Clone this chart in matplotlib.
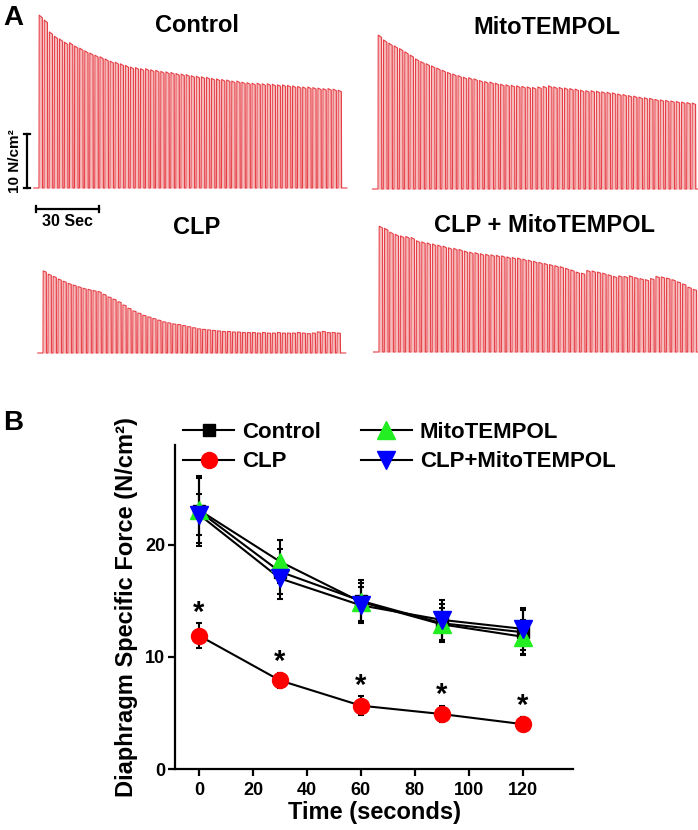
import matplotlib
matplotlib.use("Agg")
import matplotlib.pyplot as plt
from matplotlib.lines import Line2D

W, H = 698, 830
plt.rcParams['font.family'] = ['Liberation Sans', 'DejaVu Sans']
plt.rcParams['font.weight'] = 'bold'
plt.rcParams['axes.labelweight'] = 'bold'

# ---- panel A: peak force of each tetanic contraction (N/cm2) ----
control_peaks = [32.0, 31.1, 28.9, 28.1, 27.6, 27.0, 26.9, 26.3, 25.9, 25.4,
                 25.0, 24.6, 24.3, 23.9, 23.5, 23.3, 23.0, 22.7, 22.4, 22.3,
                 22.1, 22.1, 21.9, 21.8, 21.6, 21.5, 21.4, 21.2, 21.1, 21.0,
                 20.8, 20.7, 20.6, 20.5, 20.3, 20.2, 20.1, 20.0, 19.8, 19.8,
                 19.6, 19.5, 19.4, 19.4, 19.3, 19.3, 19.2, 19.1, 19.1, 19.0,
                 18.9, 18.8, 18.7, 18.7, 18.6, 18.5, 18.4, 18.4, 18.3, 18.1]
mito_peaks = [28.5, 27.6, 27.0, 26.5, 26.0, 25.4, 24.8, 24.1, 23.6, 23.2,
              22.8, 22.4, 22.0, 21.6, 21.3, 21.0, 20.7, 20.6, 20.4, 20.1,
              19.9, 19.8, 19.6, 19.4, 19.3, 19.2, 19.1, 19.0, 18.9, 18.8,
              18.9, 19.0, 19.1, 18.9, 18.8, 18.7, 18.6, 18.5, 18.3, 18.2,
              18.2, 18.1, 18.0, 17.9, 17.8, 17.6, 17.5, 17.3, 17.2, 17.0,
              16.9, 16.8, 16.6, 16.5, 16.4, 16.3, 16.2, 16.1, 16.0, 15.9]
clp_peaks = [15.2, 14.6, 14.2, 13.7, 13.3, 12.9, 12.6, 12.3, 12.0, 11.8,
             11.6, 11.4, 10.9, 10.4, 10.0, 9.5, 8.9, 8.3, 7.8, 7.4,
             7.0, 6.7, 6.4, 6.1, 5.8, 5.6, 5.4, 5.3, 5.1, 4.9,
             4.7, 4.5, 4.4, 4.3, 4.2, 4.1, 4.0, 4.0, 3.9, 3.9,
             3.8, 3.8, 3.8, 3.7, 3.8, 3.7, 3.7, 3.8, 3.7, 3.7,
             3.7, 3.8, 3.7, 3.6, 3.7, 3.9, 4.0, 3.8, 3.8, 3.7]
clp_mito_peaks = [23.3, 22.9, 22.2, 21.8, 21.5, 21.4, 21.2, 20.6, 20.4, 20.2,
                  20.0, 19.8, 19.6, 19.3, 19.2, 19.0, 18.7, 18.5, 18.4, 18.2,
                  18.1, 18.0, 17.9, 17.8, 17.6, 17.5, 17.4, 17.2, 17.0, 16.8,
                  16.6, 16.4, 16.2, 16.0, 15.8, 15.5, 15.2, 14.8, 14.6, 15.1,
                  15.0, 14.8, 14.6, 14.3, 14.0, 14.1, 14.0, 14.1, 13.8, 13.6,
                  13.4, 13.6, 14.0, 13.9, 13.7, 13.4, 13.0, 12.6, 12.0, 11.6]
STIM_DT = 2.4      # s between contractions
PX_PER_N = 5.4     # trace scale: 10 N/cm2 bar is 54 px

# ---- panel B: mean +/- SD ----
time_s = [0, 30, 60, 90, 120]
control_mean = [23.0, 17.6, 15.0, 13.0, 12.2]
control_sd = [3.1, 2.0, 1.9, 1.7, 2.0]
clp_mean = [11.9, 7.9, 5.65, 4.9, 4.0]
clp_sd = [1.1, 0.7, 0.85, 0.75, 0.65]
mito_mean = [23.1, 18.5, 14.9, 12.9, 11.8]
mito_sd = [2.9, 1.9, 1.7, 1.5, 1.5]
clpmito_mean = [22.7, 17.0, 14.6, 13.3, 12.5]
clpmito_sd = [1.8, 1.8, 1.6, 1.8, 1.9]

RED_LINE = '#e63e46'
PINK = '#f6b9b9'

fig = plt.figure(figsize=(W / 100, H / 100), dpi=100)


def fpos(x, y):
    return x / W, 1 - y / H


def trace_axes(x_first, x_last, y_base, n):
    left, right = x_first - 10, x_last + 14
    top, bottom = y_base - 180, y_base + 6
    ax = fig.add_axes([left / W, 1 - bottom / H, (right - left) / W, (bottom - top) / H])
    pxs = (x_last - x_first) / ((n - 1) * STIM_DT)
    ax.set_xlim(-10 / pxs, (n - 1) * STIM_DT + 14 / pxs)
    ax.set_ylim(-6 / PX_PER_N, 180 / PX_PER_N)
    ax.axis('off')
    return ax, pxs


def draw_trace(ax, peaks):
    t, f = [-2.5], [0]
    for k, p in enumerate(peaks):
        t0 = k * STIM_DT
        t += [t0, t0 + 0.1, t0 + 1.6, t0 + 1.7]
        f += [0, p, p * 0.985, 0]
    t.append(t[-1] + 2.5)
    f.append(0)
    ax.fill_between(t, f, color=PINK, lw=0)
    ax.plot(t, f, color=RED_LINE, lw=0.8)


ax_c, pxs_c = trace_axes(39, 338, 188, len(control_peaks))
draw_trace(ax_c, control_peaks)
ax_m, _ = trace_axes(378, 692, 189, len(mito_peaks))
draw_trace(ax_m, mito_peaks)
ax_p, _ = trace_axes(43, 337, 353, len(clp_peaks))
draw_trace(ax_p, clp_peaks)
ax_pm, _ = trace_axes(379, 693, 352, len(clp_mito_peaks))
draw_trace(ax_pm, clp_mito_peaks)

# scale bars, drawn in the control trace's units
xb = -12 / pxs_c
ax_c.plot([xb, xb], [0, 10], color='black', lw=1.6, clip_on=False)
for yy in (0, 10):
    ax_c.plot([xb - 1.3, xb + 1.3], [yy, yy], color='black', lw=1.6, clip_on=False)
ax_c.text(xb - 5.5, 5, '10 N/cm²', rotation=90, ha='center', va='center', fontsize=11)
xs0 = -3 / pxs_c
yb = -21 / PX_PER_N
ax_c.plot([xs0, xs0 + 30], [yb, yb], color='black', lw=1.6, clip_on=False)
for xx in (xs0, xs0 + 30):
    ax_c.plot([xx, xx], [yb - 0.5, yb + 0.5], color='black', lw=1.6, clip_on=False)
ax_c.text(xs0 + 15, yb - 0.9, '30 Sec', ha='center', va='top', fontsize=11.5)

for label, (x, y) in [('Control', (197, 25)), ('MitoTEMPOL', (547, 27)),
                      ('CLP', (197, 227)), ('CLP + MitoTEMPOL', (545, 226))]:
    fig.text(*fpos(x, y), label, ha='center', va='center', fontsize=17)

fig.text(*fpos(13, 18), 'A', ha='center', va='center', fontsize=20)
fig.text(*fpos(13, 423), 'B', ha='center', va='center', fontsize=20)

# ---- panel B ----
axb = fig.add_axes([175 / W, 1 - 769 / H, 398 / W, 324 / H])
axb.set_xlim(-8.9, 138.6)
axb.set_ylim(0, 28.9)

series = [
    (control_mean, control_sd, 's', 'black', 8.5, 'Control'),
    (clp_mean, clp_sd, 'o', '#ff0000', 11.5, 'CLP'),
    (mito_mean, mito_sd, '^', '#22ee22', 13, 'MitoTEMPOL'),
    (clpmito_mean, clpmito_sd, 'v', '#0000ff', 13, 'CLP+MitoTEMPOL'),
]
handles = []
for mean, sd, mk, col, ms, lab in series:
    axb.plot(time_s, mean, color='black', lw=1.5, zorder=2)
    axb.errorbar(time_s, mean, yerr=sd, fmt='none', ecolor='black', elinewidth=1.5,
                 capsize=2.2, capthick=1.5, zorder=3)
    axb.plot(time_s, mean, ls='none', marker=mk, color=col, ms=ms, mec=col, zorder=4)
    handles.append(Line2D([], [], color='black', lw=1.5, marker=mk, ms=ms, mfc=col, mec=col))

for t, m, s in zip(time_s, clp_mean, clp_sd):
    axb.text(t, m + s - 0.3, '*', ha='center', va='bottom', fontsize=21)

axb.legend(handles, [s[5] for s in series], ncol=2, loc='upper left',
           bbox_to_anchor=fpos(183, 422), bbox_transform=fig.transFigure,
           frameon=False, fontsize=16, handlelength=2.3, handletextpad=0.35,
           columnspacing=1.8, labelspacing=0.38, borderpad=0, borderaxespad=0)

for side in ('top', 'right'):
    axb.spines[side].set_visible(False)
for side in ('left', 'bottom'):
    axb.spines[side].set_linewidth(1.6)
axb.set_xticks([0, 20, 40, 60, 80, 100, 120])
axb.set_yticks([0, 10, 20])
axb.tick_params(width=1.6, length=5, labelsize=13, pad=2)
axb.tick_params(axis='x', pad=4)
axb.set_xlabel('Time (seconds)', fontsize=17, labelpad=2)
axb.set_ylabel('Diaphragm Specific Force (N/cm²)', fontsize=17, labelpad=5)

fig.savefig('out.png', dpi=100)
